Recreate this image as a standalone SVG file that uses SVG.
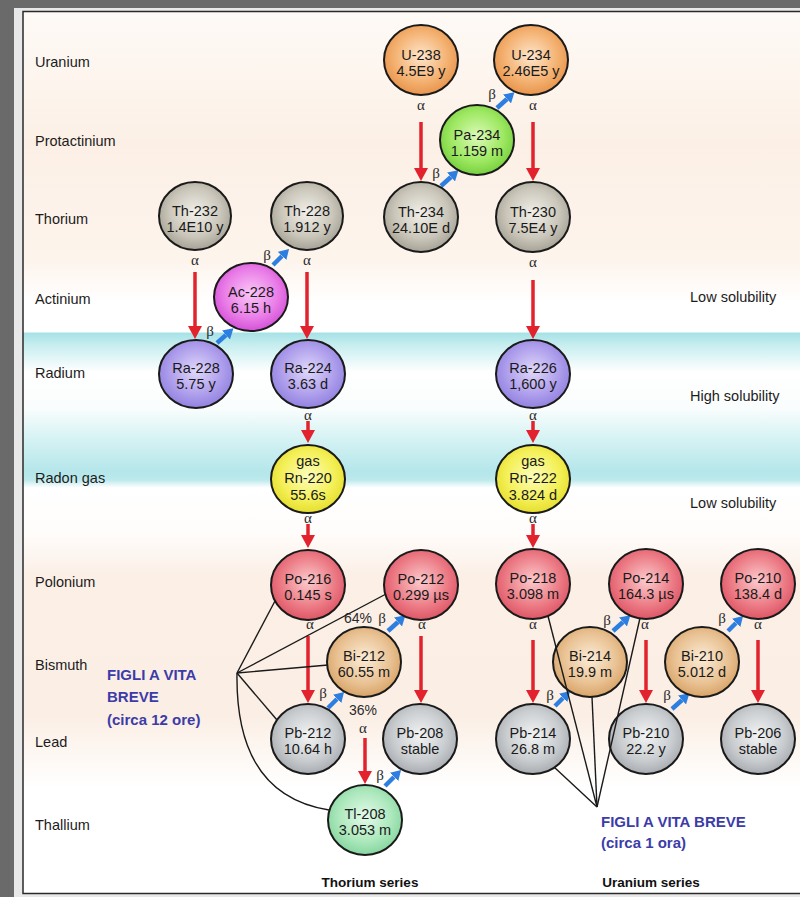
<svg xmlns="http://www.w3.org/2000/svg" width="800" height="897" viewBox="0 0 800 897">
<defs>
<style>
.lbl{font-family:"Liberation Sans",Arial,sans-serif;font-size:14.5px;fill:#1c1c1c}
.rlbl{font-family:"Liberation Sans",Arial,sans-serif;font-size:14.5px;fill:#1c1c1c}
.nt{font-family:"Liberation Sans",Arial,sans-serif;font-size:14.5px;fill:#1a1a1a;text-anchor:middle}
.gr{font-family:"Liberation Serif","Times New Roman",serif;font-size:15px;fill:#2a2a2a;text-anchor:middle}
.pct{font-family:"Liberation Sans",Arial,sans-serif;font-size:14px;fill:#2a2a2a;text-anchor:middle}
.figli{font-family:"Liberation Sans",Arial,sans-serif;font-size:15px;font-weight:bold;fill:#3c3ca8}
.ser{font-family:"Liberation Sans",Arial,sans-serif;font-size:13.5px;font-weight:bold;fill:#111;text-anchor:middle}
.nd{stroke:#1a1a1a;stroke-width:2}
.ra-arr{stroke:#e2232e;stroke-width:3.5;fill:none;marker-end:url(#mr)}
.bl-arr{stroke:#2c7fe0;stroke-width:4.5;fill:none;marker-end:url(#mb)}
.ln{stroke:#1a1a1a;stroke-width:1.4;fill:none}
</style>
<marker id="mr" viewBox="0 0 10 10" refX="0" refY="5" markerWidth="13" markerHeight="14" markerUnits="userSpaceOnUse" orient="auto" preserveAspectRatio="none"><path d="M0,0 L10,5 L0,10 z" fill="#e2232e"/></marker>
<marker id="mb" viewBox="0 0 10 10" refX="0" refY="5" markerWidth="10" markerHeight="12" markerUnits="userSpaceOnUse" orient="auto" preserveAspectRatio="none"><path d="M0,0 L10,5 L0,10 z" fill="#2c7fe0"/></marker>
<linearGradient id="bg" x1="0" y1="0" x2="0" y2="1" gradientUnits="objectBoundingBox">
<stop offset="0" stop-color="#fefaf6"/>
<stop offset="0.15" stop-color="#fcf0e6"/>
<stop offset="0.28" stop-color="#fdf4ec"/>
<stop offset="0.33" stop-color="#ffffff"/>
<stop offset="0.3634" stop-color="#ffffff"/>
<stop offset="0.3645" stop-color="#a6e2e6"/>
<stop offset="0.3787" stop-color="#c8eef0"/>
<stop offset="0.4087" stop-color="#ffffff"/>
<stop offset="0.4496" stop-color="#fafdfd"/>
<stop offset="0.486" stop-color="#d4f2f3"/>
<stop offset="0.522" stop-color="#b4e6ea"/>
<stop offset="0.531" stop-color="#bce9ec"/>
<stop offset="0.540" stop-color="#ffffff"/>
<stop offset="0.59" stop-color="#fffdfb"/>
<stop offset="0.64" stop-color="#fbefe6"/>
<stop offset="0.80" stop-color="#fbefe5"/>
<stop offset="0.88" stop-color="#ffffff"/>
<stop offset="1" stop-color="#ffffff"/>
</linearGradient>
<radialGradient id="g-u" cx="0.5" cy="0.45" r="0.55"><stop offset="0" stop-color="#fde6cc"/><stop offset="0.65" stop-color="#f4b272"/><stop offset="1" stop-color="#e8944c"/></radialGradient>
<radialGradient id="g-pa" cx="0.5" cy="0.45" r="0.55"><stop offset="0" stop-color="#dcfab8"/><stop offset="0.65" stop-color="#9ee862"/><stop offset="1" stop-color="#76d03e"/></radialGradient>
<radialGradient id="g-th" cx="0.5" cy="0.45" r="0.55"><stop offset="0" stop-color="#f2f0ea"/><stop offset="0.65" stop-color="#cac6ba"/><stop offset="1" stop-color="#a6a296"/></radialGradient>
<radialGradient id="g-ac" cx="0.5" cy="0.45" r="0.55"><stop offset="0" stop-color="#fac8f6"/><stop offset="0.65" stop-color="#ea7ee8"/><stop offset="1" stop-color="#d452d8"/></radialGradient>
<radialGradient id="g-ra" cx="0.5" cy="0.45" r="0.55"><stop offset="0" stop-color="#e0d8fa"/><stop offset="0.65" stop-color="#ae9eec"/><stop offset="1" stop-color="#9282e0"/></radialGradient>
<radialGradient id="g-rn" cx="0.5" cy="0.45" r="0.55"><stop offset="0" stop-color="#fcfcbc"/><stop offset="0.65" stop-color="#f4f058"/><stop offset="1" stop-color="#e6de2e"/></radialGradient>
<radialGradient id="g-po" cx="0.5" cy="0.45" r="0.55"><stop offset="0" stop-color="#fccacd"/><stop offset="0.65" stop-color="#ec7c86"/><stop offset="1" stop-color="#de5666"/></radialGradient>
<radialGradient id="g-bi" cx="0.5" cy="0.45" r="0.55"><stop offset="0" stop-color="#fcecd6"/><stop offset="0.65" stop-color="#e9c294"/><stop offset="1" stop-color="#d8a468"/></radialGradient>
<radialGradient id="g-pb" cx="0.5" cy="0.45" r="0.55"><stop offset="0" stop-color="#f2f4f4"/><stop offset="0.65" stop-color="#cacdd0"/><stop offset="1" stop-color="#a8acb0"/></radialGradient>
<radialGradient id="g-tl" cx="0.5" cy="0.45" r="0.55"><stop offset="0" stop-color="#e4faea"/><stop offset="0.65" stop-color="#ace8bc"/><stop offset="1" stop-color="#86d6a0"/></radialGradient>
</defs>

<!-- frame -->
<rect x="0" y="0" width="800" height="897" fill="#6a6a6a"/>
<rect x="14" y="8" width="786" height="889" fill="#e8e8e8"/>
<rect x="23" y="11.5" width="790" height="882" fill="url(#bg)" stroke="#2a2a2a" stroke-width="1.5"/>

<!-- row labels -->
<g id="row-labels">
<text class="lbl" x="35" y="67">Uranium</text>
<text class="lbl" x="35" y="146">Protactinium</text>
<text class="lbl" x="35" y="224">Thorium</text>
<text class="lbl" x="35" y="304">Actinium</text>
<text class="lbl" x="35" y="378">Radium</text>
<text class="lbl" x="35" y="483">Radon gas</text>
<text class="lbl" x="35" y="587">Polonium</text>
<text class="lbl" x="35" y="670">Bismuth</text>
<text class="lbl" x="35" y="747">Lead</text>
<text class="lbl" x="35" y="830">Thallium</text>
</g>
<g id="solubility-labels">
<text class="rlbl" x="690" y="302">Low solubility</text>
<text class="rlbl" x="690" y="401">High solubility</text>
<text class="rlbl" x="690" y="508">Low solubility</text>
</g>

<!-- connectors -->
<g id="connectors">
<line class="ra-arr" x1="421" y1="122" x2="421" y2="168"/>
<line class="ra-arr" x1="533" y1="122" x2="533" y2="168"/>
<line class="ra-arr" x1="195" y1="272" x2="195" y2="326"/>
<line class="ra-arr" x1="307" y1="272" x2="307" y2="326"/>
<line class="ra-arr" x1="533" y1="280" x2="533" y2="326"/>
<line class="ra-arr" x1="308" y1="421" x2="308" y2="430"/>
<line class="ra-arr" x1="533" y1="421" x2="533" y2="430"/>
<line class="ra-arr" x1="308" y1="524" x2="308" y2="535"/>
<line class="ra-arr" x1="533" y1="524" x2="533" y2="535"/>
<line class="ra-arr" x1="308" y1="636" x2="308" y2="690"/>
<line class="ra-arr" x1="421" y1="636" x2="421" y2="690"/>
<line class="ra-arr" x1="365" y1="738" x2="365" y2="771"/>
<line class="ra-arr" x1="533" y1="640" x2="533" y2="690"/>
<line class="ra-arr" x1="646" y1="640" x2="646" y2="690"/>
<line class="ra-arr" x1="758" y1="640" x2="758" y2="690"/>

<line class="bl-arr" x1="441" y1="186" x2="451" y2="177"/>
<line class="bl-arr" x1="497" y1="108" x2="507" y2="99"/>
<line class="bl-arr" x1="217" y1="343" x2="226" y2="335"/>
<line class="bl-arr" x1="273" y1="265" x2="282" y2="256"/>
<line class="bl-arr" x1="388" y1="631" x2="398" y2="622"/>
<line class="bl-arr" x1="328" y1="708" x2="337" y2="699"/>
<line class="bl-arr" x1="385" y1="786" x2="394" y2="777"/>
<line class="bl-arr" x1="555" y1="706" x2="563" y2="698"/>
<line class="bl-arr" x1="613" y1="631" x2="623" y2="622"/>
<line class="bl-arr" x1="672" y1="709" x2="682" y2="700"/>
<line class="bl-arr" x1="728" y1="631" x2="736" y2="623"/>
</g>

<!-- decay labels -->
<g id="decay-labels">
<text class="gr" x="421" y="110">α</text>
<text class="gr" x="533" y="110">α</text>
<text class="gr" x="195" y="265">α</text>
<text class="gr" x="307" y="265">α</text>
<text class="gr" x="533" y="267">α</text>
<text class="gr" x="308" y="420">α</text>
<text class="gr" x="533" y="420">α</text>
<text class="gr" x="308" y="523">α</text>
<text class="gr" x="533" y="523">α</text>
<text class="gr" x="310" y="629">α</text>
<text class="gr" x="422" y="629">α</text>
<text class="gr" x="533" y="629">α</text>
<text class="gr" x="645" y="629">α</text>
<text class="gr" x="758" y="629">α</text>
<text class="gr" x="363" y="733">α</text>
<text class="gr" x="436" y="178">β</text>
<text class="gr" x="492" y="99">β</text>
<text class="gr" x="210" y="336">β</text>
<text class="gr" x="267" y="260">β</text>
<text class="gr" x="323" y="698">β</text>
<text class="gr" x="380" y="780">β</text>
<text class="gr" x="550" y="700">β</text>
<text class="gr" x="607" y="625">β</text>
<text class="gr" x="667" y="700">β</text>
<text class="gr" x="722" y="623">β</text>
<text class="pct" x="358" y="623">64%</text><text class="gr" x="382" y="623">β</text>
<text class="pct" x="363" y="715">36%</text>
</g>

<!-- nodes -->
<g id="U-238"><ellipse class="nd" cx="421" cy="60" rx="37" ry="35" fill="url(#g-u)"/><text class="nt" x="421" y="60">U-238</text><text class="nt" x="421" y="76">4.5E9 y</text></g>
<g id="U-234"><ellipse class="nd" cx="531" cy="60" rx="37" ry="35" fill="url(#g-u)"/><text class="nt" x="531" y="60">U-234</text><text class="nt" x="531" y="76">2.46E5 y</text></g>
<g id="Pa-234"><ellipse class="nd" cx="477" cy="140" rx="37" ry="35" fill="url(#g-pa)"/><text class="nt" x="477" y="140">Pa-234</text><text class="nt" x="477" y="156">1.159 m</text></g>
<g id="Th-232"><ellipse class="nd" cx="195" cy="216" rx="36" ry="34" fill="url(#g-th)"/><text class="nt" x="195" y="216">Th-232</text><text class="nt" x="195" y="232">1.4E10 y</text></g>
<g id="Th-228"><ellipse class="nd" cx="307" cy="216" rx="36" ry="34" fill="url(#g-th)"/><text class="nt" x="307" y="216">Th-228</text><text class="nt" x="307" y="232">1.912 y</text></g>
<g id="Th-234"><ellipse class="nd" cx="421" cy="217" rx="37" ry="35" fill="url(#g-th)"/><text class="nt" x="421" y="217">Th-234</text><text class="nt" x="421" y="233">24.10E d</text></g>
<g id="Th-230"><ellipse class="nd" cx="533" cy="217" rx="37" ry="35" fill="url(#g-th)"/><text class="nt" x="533" y="217">Th-230</text><text class="nt" x="533" y="233">7.5E4 y</text></g>
<g id="Ac-228"><ellipse class="nd" cx="251" cy="297" rx="37" ry="34" fill="url(#g-ac)"/><text class="nt" x="251" y="297">Ac-228</text><text class="nt" x="251" y="313">6.15 h</text></g>
<g id="Ra-228"><ellipse class="nd" cx="196" cy="374" rx="37" ry="34" fill="url(#g-ra)"/><text class="nt" x="196" y="373">Ra-228</text><text class="nt" x="196" y="389">5.75 y</text></g>
<g id="Ra-224"><ellipse class="nd" cx="308" cy="374" rx="37" ry="34" fill="url(#g-ra)"/><text class="nt" x="308" y="373">Ra-224</text><text class="nt" x="308" y="389">3.63 d</text></g>
<g id="Ra-226"><ellipse class="nd" cx="533" cy="374" rx="37" ry="34" fill="url(#g-ra)"/><text class="nt" x="533" y="373">Ra-226</text><text class="nt" x="533" y="389">1,600 y</text></g>
<g id="Rn-220"><ellipse class="nd" cx="308" cy="479" rx="37" ry="34" fill="url(#g-rn)"/><text class="nt" x="308" y="466">gas</text><text class="nt" x="308" y="483">Rn-220</text><text class="nt" x="308" y="500">55.6s</text></g>
<g id="Rn-222"><ellipse class="nd" cx="533" cy="479" rx="37" ry="34" fill="url(#g-rn)"/><text class="nt" x="533" y="466">gas</text><text class="nt" x="533" y="483">Rn-222</text><text class="nt" x="533" y="500">3.824 d</text></g>
<g id="Po-216"><ellipse class="nd" cx="308" cy="585" rx="37" ry="35" fill="url(#g-po)"/><text class="nt" x="308" y="584">Po-216</text><text class="nt" x="308" y="600">0.145 s</text></g>
<g id="Po-212"><ellipse class="nd" cx="421" cy="585" rx="37" ry="35" fill="url(#g-po)"/><text class="nt" x="421" y="584">Po-212</text><text class="nt" x="421" y="600">0.299 µs</text></g>
<g id="Po-218"><ellipse class="nd" cx="533" cy="584" rx="37" ry="35" fill="url(#g-po)"/><text class="nt" x="533" y="583">Po-218</text><text class="nt" x="533" y="599">3.098 m</text></g>
<g id="Po-214"><ellipse class="nd" cx="646" cy="584" rx="37" ry="35" fill="url(#g-po)"/><text class="nt" x="646" y="583">Po-214</text><text class="nt" x="646" y="599">164.3 µs</text></g>
<g id="Po-210"><ellipse class="nd" cx="758" cy="584" rx="37" ry="35" fill="url(#g-po)"/><text class="nt" x="758" y="583">Po-210</text><text class="nt" x="758" y="599">138.4 d</text></g>
<g id="Bi-212"><ellipse class="nd" cx="364" cy="662" rx="37" ry="35" fill="url(#g-bi)"/><text class="nt" x="364" y="661">Bi-212</text><text class="nt" x="364" y="677">60.55 m</text></g>
<g id="Bi-214"><ellipse class="nd" cx="590" cy="662" rx="37" ry="35" fill="url(#g-bi)"/><text class="nt" x="590" y="661">Bi-214</text><text class="nt" x="590" y="677">19.9 m</text></g>
<g id="Bi-210"><ellipse class="nd" cx="702" cy="662" rx="37" ry="35" fill="url(#g-bi)"/><text class="nt" x="702" y="661">Bi-210</text><text class="nt" x="702" y="677">5.012 d</text></g>
<g id="Pb-212"><ellipse class="nd" cx="308" cy="739" rx="37" ry="35" fill="url(#g-pb)"/><text class="nt" x="308" y="738">Pb-212</text><text class="nt" x="308" y="754">10.64 h</text></g>
<g id="Pb-208"><ellipse class="nd" cx="420" cy="739" rx="37" ry="35" fill="url(#g-pb)"/><text class="nt" x="420" y="738">Pb-208</text><text class="nt" x="420" y="754">stable</text></g>
<g id="Pb-214"><ellipse class="nd" cx="533" cy="739" rx="37" ry="35" fill="url(#g-pb)"/><text class="nt" x="533" y="738">Pb-214</text><text class="nt" x="533" y="754">26.8 m</text></g>
<g id="Pb-210"><ellipse class="nd" cx="646" cy="739" rx="37" ry="35" fill="url(#g-pb)"/><text class="nt" x="646" y="738">Pb-210</text><text class="nt" x="646" y="754">22.2 y</text></g>
<g id="Pb-206"><ellipse class="nd" cx="758" cy="739" rx="37" ry="35" fill="url(#g-pb)"/><text class="nt" x="758" y="738">Pb-206</text><text class="nt" x="758" y="754">stable</text></g>
<g id="Tl-208"><ellipse class="nd" cx="365" cy="820" rx="37" ry="35" fill="url(#g-tl)"/><text class="nt" x="365" y="819">Tl-208</text><text class="nt" x="365" y="835">3.053 m</text></g>

<!-- short-lived daughters lines -->
<g id="short-lived-links">
<line class="ln" x1="237" y1="673" x2="275" y2="601"/>
<line class="ln" x1="237" y1="673" x2="386" y2="594"/>
<line class="ln" x1="237" y1="673" x2="328" y2="665"/>
<line class="ln" x1="237" y1="673" x2="277" y2="720"/>
<path class="ln" d="M237,673 Q235,795 329,810"/>
<line class="ln" x1="597" y1="807" x2="548" y2="616"/>
<line class="ln" x1="597" y1="807" x2="554" y2="767"/>
<line class="ln" x1="597" y1="807" x2="592" y2="697"/>
<line class="ln" x1="597" y1="807" x2="640" y2="618"/>
</g>

<g id="notes">
<text class="figli" x="107" y="680">FIGLI A VITA</text>
<text class="figli" x="107" y="702">BREVE</text>
<text class="figli" x="107" y="725">(circa 12 ore)</text>
<text class="figli" x="601" y="827">FIGLI A VITA BREVE</text>
<text class="figli" x="601" y="848">(circa 1 ora)</text>
<text class="ser" x="370" y="887">Thorium series</text>
<text class="ser" x="651" y="887">Uranium series</text>
</g>
</svg>
